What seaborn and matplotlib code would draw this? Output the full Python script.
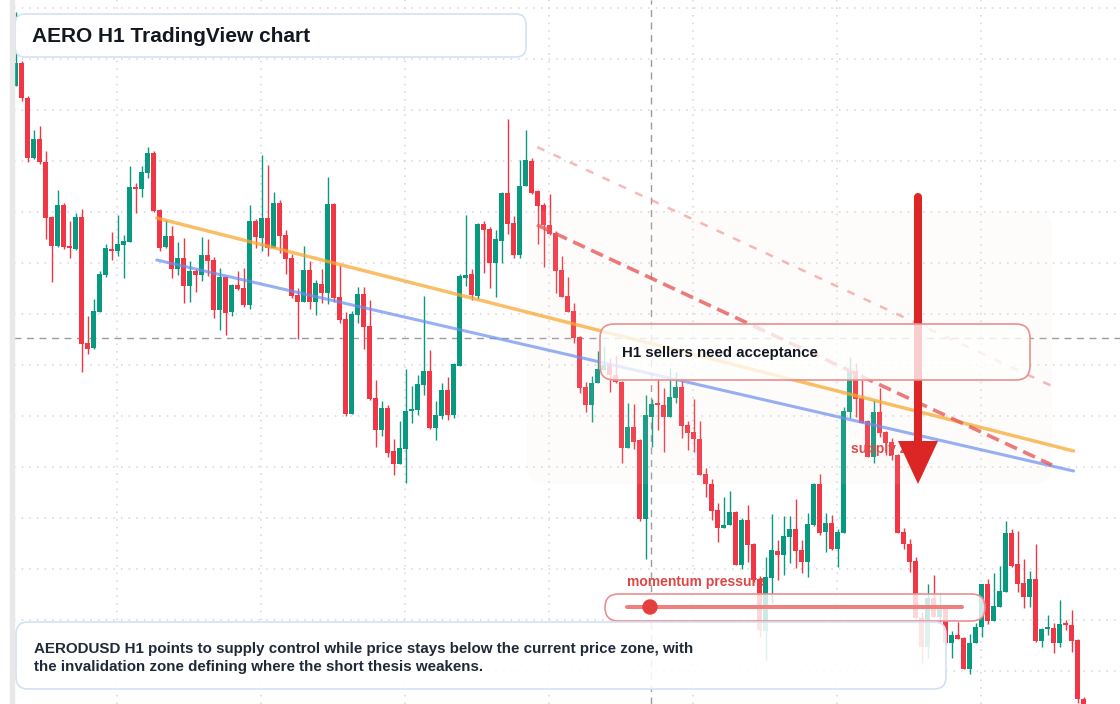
import numpy as np
import pandas as pd
import seaborn as sns
import matplotlib
matplotlib.use("Agg")
import matplotlib.pyplot as plt
from matplotlib.patches import FancyBboxPatch, Rectangle, Polygon, Circle
from matplotlib.transforms import Affine2D

# AERO H1 candles (price)
open_ = [0.914, 0.937, 0.902, 0.842, 0.861, 0.838, 0.783, 0.754, 0.795, 0.754,
         0.751, 0.783, 0.657, 0.652, 0.688, 0.725, 0.751, 0.749, 0.755, 0.758,
         0.813, 0.811, 0.827, 0.847, 0.790, 0.753, 0.764, 0.731, 0.742, 0.714,
         0.729, 0.725, 0.745, 0.740, 0.690, 0.723, 0.688, 0.715, 0.712, 0.695,
         0.779, 0.762, 0.782, 0.752, 0.797, 0.765, 0.742, 0.705, 0.698, 0.730,
         0.698, 0.716, 0.707, 0.796, 0.703, 0.681, 0.586, 0.685, 0.706, 0.674,
         0.602, 0.570, 0.592, 0.549, 0.536, 0.551, 0.589, 0.590, 0.615, 0.629,
         0.572, 0.584, 0.610, 0.585, 0.634, 0.722, 0.726, 0.704, 0.776, 0.771,
         0.737, 0.759, 0.807, 0.777, 0.745, 0.814, 0.839, 0.809, 0.795, 0.775,
         0.767, 0.730, 0.704, 0.689, 0.663, 0.613, 0.595, 0.617, 0.630, 0.636,
         0.625, 0.618, 0.552, 0.573, 0.560, 0.481, 0.583, 0.596, 0.595, 0.583,
         0.602, 0.613, 0.575, 0.568, 0.561, 0.526, 0.516, 0.490, 0.472, 0.475,
         0.488, 0.435, 0.480, 0.456, 0.421, 0.369, 0.422, 0.449, 0.445, 0.463,
         0.471, 0.450, 0.438, 0.475, 0.516, 0.468, 0.477, 0.451, 0.467, 0.588,
         0.629, 0.602, 0.579, 0.543, 0.588, 0.568, 0.558, 0.545, 0.468, 0.456,
         0.439, 0.382, 0.353, 0.402, 0.383, 0.392, 0.357, 0.365, 0.362, 0.331,
         0.357, 0.373, 0.416, 0.379, 0.393, 0.408, 0.467, 0.436, 0.417, 0.403,
         0.421, 0.359, 0.371, 0.372, 0.357, 0.376, 0.375, 0.360, 0.301]
high = [0.988, 0.939, 0.904, 0.870, 0.874, 0.849, 0.784, 0.810, 0.797, 0.779,
        0.787, 0.791, 0.684, 0.701, 0.729, 0.756, 0.768, 0.785, 0.765, 0.834,
        0.817, 0.834, 0.853, 0.849, 0.791, 0.780, 0.774, 0.758, 0.762, 0.739,
        0.731, 0.763, 0.761, 0.743, 0.732, 0.724, 0.716, 0.729, 0.732, 0.795,
        0.781, 0.845, 0.835, 0.808, 0.800, 0.770, 0.746, 0.712, 0.754, 0.739,
        0.720, 0.731, 0.823, 0.797, 0.735, 0.688, 0.689, 0.713, 0.713, 0.700,
        0.620, 0.599, 0.595, 0.561, 0.579, 0.631, 0.614, 0.625, 0.704, 0.650,
        0.599, 0.617, 0.623, 0.637, 0.726, 0.785, 0.731, 0.777, 0.779, 0.773,
        0.770, 0.808, 0.881, 0.784, 0.840, 0.870, 0.842, 0.810, 0.797, 0.806,
        0.769, 0.744, 0.723, 0.697, 0.664, 0.618, 0.624, 0.649, 0.654, 0.642,
        0.644, 0.619, 0.597, 0.596, 0.561, 0.605, 0.601, 0.622, 0.612, 0.632,
        0.628, 0.619, 0.579, 0.601, 0.579, 0.532, 0.521, 0.497, 0.503, 0.509,
        0.489, 0.482, 0.495, 0.457, 0.424, 0.443, 0.486, 0.460, 0.484, 0.484,
        0.501, 0.460, 0.487, 0.517, 0.526, 0.487, 0.485, 0.471, 0.593, 0.643,
        0.637, 0.620, 0.580, 0.600, 0.612, 0.569, 0.562, 0.546, 0.472, 0.461,
        0.443, 0.388, 0.416, 0.425, 0.407, 0.393, 0.369, 0.378, 0.363, 0.366,
        0.377, 0.416, 0.421, 0.427, 0.434, 0.479, 0.471, 0.469, 0.441, 0.429,
        0.456, 0.372, 0.385, 0.377, 0.400, 0.380, 0.390, 0.361, 0.303]
low = [0.914, 0.899, 0.838, 0.841, 0.836, 0.761, 0.718, 0.753, 0.751, 0.742,
       0.750, 0.628, 0.646, 0.651, 0.688, 0.723, 0.740, 0.744, 0.722, 0.758,
       0.787, 0.803, 0.822, 0.788, 0.749, 0.752, 0.722, 0.725, 0.697, 0.698,
       0.708, 0.719, 0.724, 0.682, 0.670, 0.665, 0.684, 0.710, 0.693, 0.691,
       0.752, 0.749, 0.744, 0.752, 0.747, 0.726, 0.702, 0.661, 0.698, 0.691,
       0.685, 0.697, 0.696, 0.698, 0.677, 0.584, 0.586, 0.677, 0.651, 0.600,
       0.553, 0.564, 0.543, 0.525, 0.536, 0.517, 0.577, 0.585, 0.605, 0.571,
       0.560, 0.581, 0.580, 0.582, 0.634, 0.714, 0.700, 0.701, 0.727, 0.712,
       0.703, 0.737, 0.766, 0.742, 0.742, 0.814, 0.806, 0.756, 0.733, 0.765,
       0.707, 0.703, 0.688, 0.657, 0.607, 0.588, 0.578, 0.617, 0.630, 0.608,
       0.617, 0.537, 0.552, 0.551, 0.479, 0.441, 0.553, 0.570, 0.548, 0.583,
       0.597, 0.562, 0.550, 0.548, 0.525, 0.503, 0.480, 0.458, 0.472, 0.475,
       0.435, 0.431, 0.438, 0.418, 0.363, 0.340, 0.397, 0.420, 0.425, 0.437,
       0.432, 0.427, 0.423, 0.474, 0.465, 0.448, 0.450, 0.433, 0.467, 0.582,
       0.583, 0.577, 0.543, 0.537, 0.563, 0.545, 0.540, 0.467, 0.451, 0.428,
       0.382, 0.337, 0.342, 0.383, 0.378, 0.357, 0.342, 0.361, 0.331, 0.326,
       0.357, 0.363, 0.376, 0.379, 0.393, 0.408, 0.433, 0.408, 0.392, 0.393,
       0.358, 0.353, 0.365, 0.347, 0.353, 0.370, 0.348, 0.297, 0.294]
close = [0.937, 0.902, 0.842, 0.861, 0.838, 0.782, 0.754, 0.795, 0.753, 0.752,
         0.783, 0.656, 0.651, 0.689, 0.726, 0.752, 0.749, 0.756, 0.759, 0.813,
         0.811, 0.828, 0.847, 0.789, 0.752, 0.764, 0.731, 0.742, 0.714, 0.729,
         0.725, 0.745, 0.739, 0.690, 0.723, 0.687, 0.715, 0.711, 0.695, 0.779,
         0.763, 0.782, 0.752, 0.797, 0.764, 0.741, 0.704, 0.698, 0.730, 0.698,
         0.717, 0.707, 0.796, 0.702, 0.680, 0.586, 0.686, 0.706, 0.673, 0.601,
         0.570, 0.592, 0.547, 0.536, 0.552, 0.589, 0.590, 0.616, 0.629, 0.572,
         0.585, 0.610, 0.585, 0.636, 0.724, 0.725, 0.705, 0.776, 0.770, 0.737,
         0.761, 0.807, 0.776, 0.745, 0.814, 0.840, 0.807, 0.794, 0.775, 0.766,
         0.729, 0.703, 0.688, 0.662, 0.612, 0.595, 0.617, 0.631, 0.635, 0.625,
         0.618, 0.552, 0.573, 0.558, 0.481, 0.585, 0.596, 0.595, 0.583, 0.603,
         0.613, 0.574, 0.567, 0.561, 0.525, 0.516, 0.489, 0.472, 0.475, 0.488,
         0.435, 0.480, 0.455, 0.420, 0.370, 0.423, 0.450, 0.445, 0.464, 0.471,
         0.449, 0.438, 0.476, 0.516, 0.467, 0.477, 0.451, 0.468, 0.589, 0.629,
         0.601, 0.577, 0.543, 0.588, 0.567, 0.557, 0.545, 0.467, 0.456, 0.438,
         0.382, 0.353, 0.402, 0.383, 0.392, 0.357, 0.365, 0.361, 0.331, 0.357,
         0.373, 0.416, 0.379, 0.394, 0.409, 0.467, 0.434, 0.416, 0.403, 0.421,
         0.359, 0.371, 0.372, 0.357, 0.376, 0.375, 0.359, 0.301, 0.296]

# drawn levels (bar index, price)
trend_x = [23.5, 176.3]
orange_y = [0.782, 0.549]
blue_y = [0.740, 0.529]
channel_x = [86.9, 172.7]
channel_hi = [0.853, 0.614]
channel_lo = [0.775, 0.535]
cross_price = 0.662
cross_bar = 105.9

title = "AERO H1 TradingView chart"
callout = "H1 sellers need acceptance"
zone_label = "supply zone"
momentum_label = "momentum pressure"
summary = ("AERODUSD H1 points to supply control while price stays below the current price zone, with\n"
           "the invalidation zone defining where the short thesis weakens.")

GREEN = "#089981"
RED = "#f23645"
W, H = 1120, 704

sns.set_theme(style="white")
plt.rcParams["font.family"] = ["Liberation Sans", "DejaVu Sans"]

fig = plt.figure(figsize=(W / 100, H / 100), dpi=100)
# chart pane starts right of the thin left scale strip
ax = fig.add_axes([14 / W, 0, 1 - 14 / W, 1])
ax.set_xlim(-0.283, 184.05)
ax.set_ylim(0.296, 1.0)
for s in ax.spines.values():
    s.set_visible(False)

# pixel coords (top-left origin) for the overlay widgets
px = Affine2D().scale(1 / W, -1 / H).translate(0, 1) + fig.transFigure

# grid
ax.set_xticks(np.arange(16.9, 184, 24))
ax.set_yticks(np.round(np.arange(0.992, 0.29, -0.051), 3))
ax.tick_params(length=0, labelbottom=False, labelleft=False)
ax.grid(True, color="#d3d6dc", linestyle=(0, (1, 4)), linewidth=1.1)
ax.set_axisbelow(True)

fig.patches.append(Rectangle((10, 0), 4, H, transform=px, color="#e8e8e8", zorder=1))

# crosshair
ax.axhline(cross_price, color="#9a9ca3", linestyle=(0, (5, 4)), linewidth=1, zorder=2)
ax.axvline(cross_bar, color="#9a9ca3", linestyle=(0, (5, 4)), linewidth=1, zorder=2)

# candles
df = pd.DataFrame({"open": open_, "high": high, "low": low, "close": close})
df["bar"] = np.arange(len(df))
colors = np.where(df["close"] >= df["open"], GREEN, RED)
ax.vlines(df["bar"], df["low"], df["high"], colors=colors, linewidth=1, zorder=3)
ax.bar(df["bar"], (df["close"] - df["open"]).abs().clip(lower=0.002),
       bottom=np.minimum(df["open"], df["close"]), width=0.78,
       color=colors, linewidth=0, zorder=4)

# supply zone shading (very faint)
ax.add_patch(FancyBboxPatch((527, 211), 525, 273, boxstyle="round,pad=0,rounding_size=18",
                            transform=px, facecolor="#f6dfcd", edgecolor="none",
                            alpha=0.09, zorder=5))

# trend lines
sns.lineplot(x=trend_x, y=orange_y, ax=ax, color="#f7a934", alpha=0.75, linewidth=2.5, zorder=6)
sns.lineplot(x=trend_x, y=blue_y, ax=ax, color="#6a8ff0", alpha=0.7, linewidth=2.2, zorder=6)
sns.lineplot(x=channel_x, y=channel_hi, ax=ax, color="#f08a8a", alpha=0.6,
             linewidth=1.8, linestyle=(0, (3.2, 4.0)), zorder=6)
sns.lineplot(x=channel_x, y=channel_lo, ax=ax, color="#e85a5a", alpha=0.8,
             linewidth=2.6, linestyle=(0, (3.6, 1.9)), zorder=6)

ax.text(851, 449, zone_label, transform=px, color="#e04848", fontsize=10,
        fontweight="bold", va="center", ha="left", zorder=7)

# arrow
ax.plot([918, 918], [197, 445], transform=px, color="#dc2626", linewidth=5.8,
        solid_capstyle="round", zorder=8)
ax.add_patch(Polygon([(898, 441), (938, 441), (918, 484)], closed=True, transform=px,
                     facecolor="#dc2626", edgecolor="none", zorder=8))

# callout
ax.add_patch(FancyBboxPatch((600, 324), 430, 56, boxstyle="round,pad=0,rounding_size=14",
                            transform=px, facecolor=(1, 1, 1, 0.78),
                            edgecolor="#ea8e8e", linewidth=1.2, zorder=10))
ax.text(622, 353, callout, transform=px, color="#131722", fontsize=10.8,
        fontweight="bold", va="center", ha="left", zorder=11)

# momentum pill
ax.add_patch(FancyBboxPatch((605, 594), 380, 27, boxstyle="round,pad=0,rounding_size=13.5",
                            transform=px, facecolor=(1, 1, 1, 0.8),
                            edgecolor="#ec8f8f", linewidth=1.2, zorder=10))
ax.plot([627, 962], [607, 607], transform=px, color="#ef8080", linewidth=2.9, zorder=11)
ax.add_patch(Circle((650, 607), 7, transform=px, color="#e53e3e", zorder=12))
ax.text(627, 582, momentum_label, transform=px, color="#e04545", fontsize=10,
        fontweight="bold", va="center", ha="left", zorder=11)

# summary box
ax.add_patch(FancyBboxPatch((16, 622), 930, 67, boxstyle="round,pad=0,rounding_size=12",
                            transform=px, facecolor=(1, 1, 1, 0.88),
                            edgecolor="#d3e0f5", linewidth=1.2, zorder=10))
ax.text(34, 658, summary, transform=px, color="#1f2937", fontsize=10.9,
        fontweight="bold", va="center", ha="left", linespacing=1.38, zorder=11)

# title box
ax.add_patch(FancyBboxPatch((15, 14), 511, 43, boxstyle="round,pad=0,rounding_size=10",
                            transform=px, facecolor="white",
                            edgecolor="#d3e2f7", linewidth=1.2, zorder=10))
ax.text(32, 36, title, transform=px, color="#131722", fontsize=15,
        fontweight="bold", va="center", ha="left", zorder=11)

fig.savefig("out.png", dpi=100)
